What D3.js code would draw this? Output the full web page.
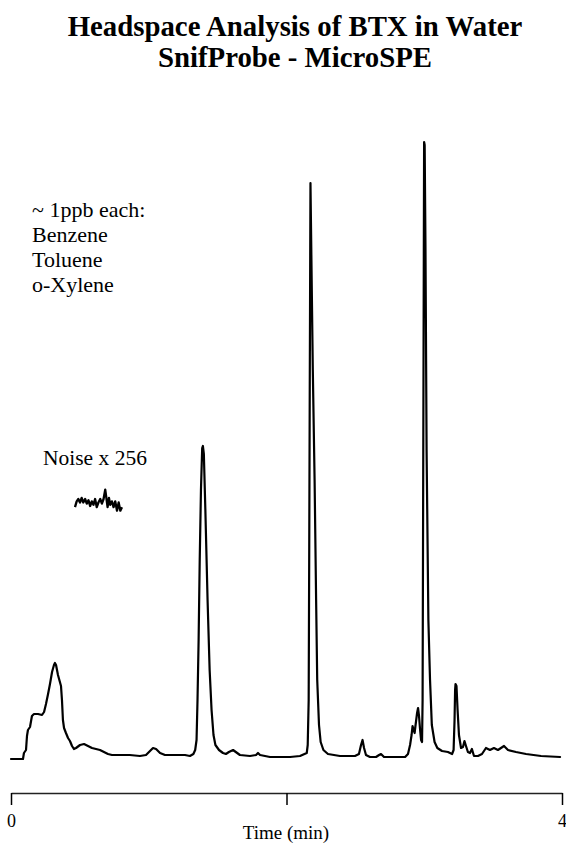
<!DOCTYPE html>
<html>
<head>
<meta charset="utf-8">
<script src="https://cdn.jsdelivr.net/npm/d3@7"></script>
<style>
  html, body { margin: 0; padding: 0; background: #fff; }
  svg { display: block; }
</style>
</head>
<body>
<script>
// Chromatogram: retention time (min) and detector response (arbitrary units)
const time = [
  0.000, 0.087, 0.094, 0.109, 0.116, 0.123, 0.138, 0.152, 0.167, 0.196, 0.225, 0.240, 0.254, 0.269,
  0.283, 0.298, 0.312, 0.319, 0.327, 0.341, 0.363, 0.370, 0.377, 0.385, 0.399, 0.414, 0.428, 0.443,
  0.457, 0.472, 0.501, 0.530, 0.559, 0.588, 0.617, 0.646, 0.704, 0.733, 0.791, 0.862, 0.936, 0.980,
  1.009, 1.031, 1.053, 1.082, 1.118, 1.191, 1.263, 1.299, 1.324, 1.337, 1.347, 1.354, 1.362, 1.370,
  1.379, 1.388, 1.393, 1.400, 1.411, 1.427, 1.442, 1.456, 1.470, 1.484, 1.510, 1.539, 1.560, 1.582,
  1.612, 1.662, 1.735, 1.779, 1.793, 1.808, 1.880, 2.026, 2.098, 2.147, 2.154, 2.161, 2.165, 2.169,
  2.174, 2.180, 2.191, 2.204, 2.215, 2.223, 2.236, 2.248, 2.268, 2.301, 2.388, 2.497, 2.526, 2.541,
  2.552, 2.563, 2.577, 2.606, 2.650, 2.672, 2.686, 2.708, 2.788, 2.861, 2.882, 2.897, 2.908, 2.915,
  2.923, 2.930, 2.937, 2.948, 2.955, 2.962, 2.970, 2.977, 2.984, 2.988, 2.991, 2.995, 2.999, 3.003,
  3.009, 3.017, 3.030, 3.042, 3.055, 3.075, 3.095, 3.129, 3.172, 3.202, 3.213, 3.220, 3.224, 3.227,
  3.234, 3.242, 3.252, 3.267, 3.281, 3.292, 3.303, 3.317, 3.332, 3.346, 3.361, 3.390, 3.419, 3.448,
  3.477, 3.506, 3.535, 3.557, 3.579, 3.608, 3.666, 3.739, 3.848, 3.986
];
const response = [
  0, 0, 6, 9, 23, 29, 32, 43, 45, 45, 44, 47, 55, 65,
  75, 87, 94, 96, 94, 84, 73, 59, 39, 31, 26, 21, 18, 13,
  10, 11, 14, 15, 13, 11, 10, 9, 5, 4, 4, 4, 3, 4,
  8, 11, 10, 6, 4, 4, 4, 3, 5, 9, 19, 59, 119, 199,
  269, 311, 313, 305, 249, 159, 89, 49, 24, 14, 9, 6, 5, 7,
  9, 4, 3, 4, 6, 4, 2, 2, 3, 6, 14, 59, 209, 379,
  576, 509, 389, 279, 159, 79, 34, 17, 9, 5, 3, 3, 5, 14,
  19, 11, 4, 2, 2, 4, 5, 2, 2, 2, 5, 14, 24, 33,
  29, 26, 34, 46, 51, 43, 29, 19, 17, 59, 209, 409,
  617, 614, 509, 309, 139, 79, 34, 17, 11, 8, 7, 5, 9, 39,
  69, 75, 73, 49, 24, 11, 12, 18, 13, 7, 6, 10, 3, 3,
  5, 11, 9, 11, 9, 11, 13, 9, 7, 5, 3, 2, 1
];

// Baseline noise segment, amplified 256x (time offset in min, response units)
const noiseTime = [
  0.000, 0.012, 0.024, 0.036, 0.048, 0.060, 0.073, 0.085, 0.097, 0.109, 0.121, 0.133, 0.145, 0.157, 0.169,
  0.182, 0.194, 0.206, 0.218, 0.225, 0.235, 0.245, 0.254, 0.266, 0.278, 0.290, 0.303, 0.315, 0.327, 0.339
];
const noiseValue = [
  -4, 1, 3, 0, 4, 0, 3, -1, 2, -3, 1, -2, 3, -4, 0,
  3, -1, 3, 11, 5, -4, 4, -2, 1, -4, 1, -7, 0, -7, -4
];

const titleLines = ["Headspace Analysis of BTX in Water", "SnifProbe - MicroSPE"];
const sampleNote = ["~ 1ppb each:", "Benzene", "Toluene", "o-Xylene"];
const noiseLabel = "Noise x 256";
const timeTicks = [0, 2, 4];
const tickLabels = ["0", "", "4"];
const axisTitle = "Time (min)";

const SERIF = "'Liberation Serif', 'Times New Roman', Times, serif";
const W = 566, H = 843;
const svg = d3.select("body").append("svg").attr("width", W).attr("height", H)
  .attr("font-family", SERIF);

const x = d3.scaleLinear().domain([0, 4]).range([11, 562]);
const y = d3.scaleLinear().domain([0, 620]).range([759, 139]);

// Title
svg.append("g").selectAll("text").data(titleLines).join("text")
  .attr("x", 295).attr("y", (d, i) => 36 + i * 31)
  .attr("text-anchor", "middle")
  .attr("font-family", SERIF).attr("font-size", 28.8).attr("font-weight", "bold")
  .attr("fill", "#000")
  .text(d => d);

// Sample annotation
svg.append("g").selectAll("text").data(sampleNote).join("text")
  .attr("x", 32).attr("y", (d, i) => 217 + i * 25)
  .attr("font-family", SERIF).attr("font-size", 22).attr("fill", "#000")
  .text(d => d);

// Noise inset
svg.append("text").attr("x", 43).attr("y", 465)
  .attr("font-family", SERIF).attr("font-size", 21.5).attr("fill", "#000")
  .text(noiseLabel);

const nx = d3.scaleLinear().domain([0, 0.339]).range([75, 122]);
const ny = d3.scaleLinear().domain([-9, 9]).range([513, 492]);
svg.append("path")
  .datum(d3.zip(noiseTime, noiseValue))
  .attr("fill", "none").attr("stroke", "#000").attr("stroke-width", 2.3)
  .attr("stroke-linejoin", "round")
  .attr("d", d3.line().x(d => nx(d[0])).y(d => ny(d[1])));

// Chromatogram trace
svg.append("path")
  .datum(d3.zip(time, response))
  .attr("fill", "none").attr("stroke", "#000").attr("stroke-width", 2.2)
  .attr("stroke-linejoin", "round").attr("stroke-linecap", "round")
  .attr("d", d3.line().x(d => x(d[0])).y(d => y(d[1])));

// Time axis
const axis = d3.axisBottom(x)
  .tickValues(timeTicks)
  .tickFormat((d, i) => tickLabels[i])
  .tickSize(12).tickSizeOuter(0).tickPadding(9);
const ag = svg.append("g").attr("transform", "translate(0,793)").call(axis)
  .attr("font-family", SERIF).attr("font-size", 18);
ag.select(".domain").attr("stroke", "#222").attr("stroke-width", 1.5);
ag.selectAll(".tick line").attr("stroke", "#000").attr("stroke-width", 1.5);
ag.selectAll(".tick text").attr("fill", "#000");

svg.append("text").attr("x", 286).attr("y", 839)
  .attr("text-anchor", "middle")
  .attr("font-family", SERIF).attr("font-size", 19).attr("fill", "#000")
  .text(axisTitle);
</script>
</body>
</html>
